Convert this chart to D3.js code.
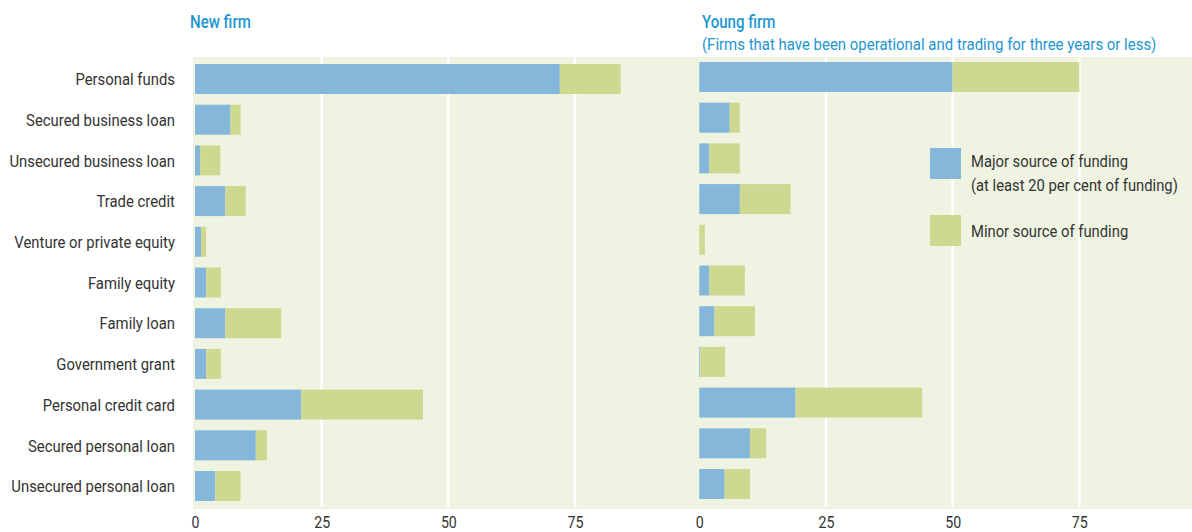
<!DOCTYPE html>
<html>
<head>
<meta charset="utf-8">
<script src="https://cdn.jsdelivr.net/npm/d3@7"></script>
<style>
  body { margin: 0; background: #fff; }
  svg text { font-family: "Roboto", "Liberation Sans", sans-serif; }
</style>
</head>
<body>
<svg id="chart" width="1192" height="532"></svg>
<script>
// funding sources (per cent of firms)
let categories = ["Personal funds","Secured business loan","Unsecured business loan","Trade credit",
  "Venture or private equity","Family equity","Family loan","Government grant",
  "Personal credit card","Secured personal loan","Unsecured personal loan"]
let newMajor   = [72, 7, 1, 6, 1.2, 2.2, 6, 2.2, 21, 12, 4]
let newMinor   = [12, 2, 4, 4, 1, 2.9, 11, 2.9, 24, 2.2, 5]
let youngMajor = [50, 6, 2, 8, 0, 2, 3, 0.2, 19, 10, 5]
let youngMinor = [25, 2, 6, 10, 1.1, 7, 8, 4.9, 25, 3.2, 5]
let ticks = [0, 25, 50, 75]
let panelTitles = ["New firm", "Young firm"]
let subTitle = "(Firms that have been operational and trading for three years or less)"
let legendLabels = [["Major source of funding", "(at least 20 per cent of funding)"], ["Minor source of funding"]]

let blue = "#84b7d9", green = "#cfd891", bg = "#eff3e2", titleCol = "#2196cf", txt = "#333"
let squeezeK = 0.86  // the original face is a condensed one

// narrow the text horizontally around its own x anchor
function squeeze(sel) {
  sel.each(function() {
    var t = d3.select(this)
    var x = +t.attr("x") || 0
    t.attr("transform", `translate(${x},0) scale(${squeezeK},1) translate(${-x},0)`)
  })
}

var svg = d3.select("#chart")

// background band behind both panels
svg.append("rect").attr("x", 193).attr("y", 57).attr("width", 999).attr("height", 452).attr("fill", bg)

var xLeft = d3.scaleLinear().domain([0, 100]).range([195, 701.7])
var xRight = d3.scaleLinear().domain([0, 100]).range([699.3, 1206])
var yLeft = d3.scaleBand().domain(categories).range([58.7, 506.3]).paddingInner(0.263).paddingOuter(0.13)
var yRight = d3.scaleBand().domain(categories).range([56.7, 504.3]).paddingInner(0.263).paddingOuter(0.13)

function drawPanel(x, y, major, minor) {
  // white grid lines
  svg.append("g").selectAll("line").data(ticks.slice(1)).enter().append("line")
    .attr("x1", d => x(d)).attr("x2", d => x(d)).attr("y1", 57).attr("y2", 507)
    .attr("stroke", "#fff").attr("stroke-width", 2.5)

  var g = svg.append("g")
  g.selectAll(".major").data(categories).enter().append("rect")
    .attr("x", x(0)).attr("y", d => y(d))
    .attr("width", (d, i) => x(major[i]) - x(0)).attr("height", y.bandwidth()).attr("fill", blue)
  g.selectAll(".minor").data(categories).enter().append("rect")
    .attr("x", (d, i) => x(major[i])).attr("y", d => y(d))
    .attr("width", (d, i) => x(major[i] + minor[i]) - x(major[i])).attr("height", y.bandwidth()).attr("fill", green)

  var ax = svg.append("g").attr("transform", "translate(0,514)")
    .call(d3.axisBottom(x).tickValues(ticks).tickSize(0).tickPadding(0))
  ax.select(".domain").remove()
  ax.selectAll("text").attr("dy", null).attr("y", 14).style("font-size", "16.5px").attr("fill", txt)
    .call(squeeze)
}

drawPanel(xLeft, yLeft, newMajor, newMinor)
drawPanel(xRight, yRight, youngMajor, youngMinor)

// category labels
svg.append("g").selectAll("text").data(categories).enter().append("text")
  .attr("x", 175).attr("y", d => yLeft(d) + yLeft.bandwidth() / 2).attr("dy", "0.36em")
  .attr("text-anchor", "end").style("font-size", "17.3px").attr("fill", txt).text(d => d)
  .call(squeeze)

// panel titles
svg.append("text").attr("x", 190).attr("y", 28).style("font-size", "17.5px").style("font-weight", 500)
  .attr("fill", titleCol).text(panelTitles[0]).call(squeeze)
svg.append("text").attr("x", 702).attr("y", 28).style("font-size", "17.5px").style("font-weight", 500)
  .attr("fill", titleCol).text(panelTitles[1]).call(squeeze)
svg.append("text").attr("x", 702).attr("y", 50).style("font-size", "17.4px")
  .attr("fill", titleCol).text(subTitle).call(squeeze)

// legend
var leg = svg.append("g")
leg.append("rect").attr("x", 930).attr("y", 148).attr("width", 31).attr("height", 31).attr("fill", blue)
leg.append("rect").attr("x", 930).attr("y", 215).attr("width", 31).attr("height", 31).attr("fill", green)
leg.append("text").attr("x", 971).attr("y", 167).style("font-size", "17.2px").attr("fill", txt).text(legendLabels[0][0]).call(squeeze)
leg.append("text").attr("x", 971).attr("y", 191).style("font-size", "17.2px").attr("fill", txt).text(legendLabels[0][1]).call(squeeze)
leg.append("text").attr("x", 971).attr("y", 237).style("font-size", "17.2px").attr("fill", txt).text(legendLabels[1][0]).call(squeeze)
</script>
</body>
</html>
